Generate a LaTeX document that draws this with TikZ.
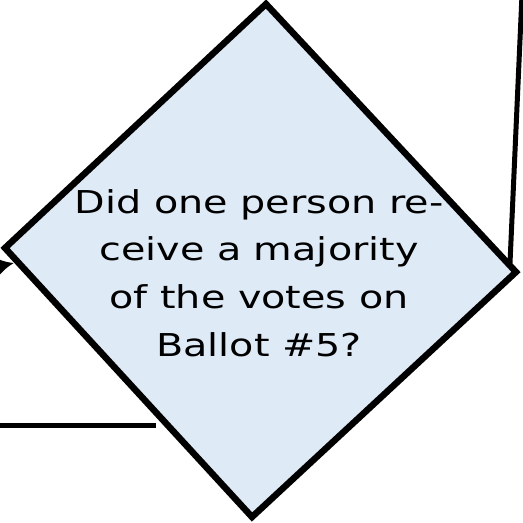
\documentclass[tikz,border=0pt]{standalone}
\usepackage{fontspec}
\setmainfont[FakeStretch=1.26]{DejaVu Sans}
\usetikzlibrary{arrows.meta}
\definecolor{diafill}{HTML}{DEEAF6}
\tikzset{
  decision/.style={draw=black, line width=6.5pt, fill=diafill, line join=miter},
  conn/.style={draw=black, line width=5pt},
  qtext/.style={align=center, inner sep=0pt, font=\fontsize{31.5pt}{47.7pt}\selectfont}
}
\begin{document}
\begin{tikzpicture}[x=1pt, y=-1pt]
\useasboundingbox (0,0) rectangle (523,523);
\clip (0,0) rectangle (523,523);
\coordinate (T) at (266,4);
\coordinate (R) at (516,272);
\coordinate (B) at (252,517);
\coordinate (L) at (5,248);
\path[decision] (T) -- (R) -- (B) -- (L) -- cycle;
\node[qtext, anchor=north] (q) at (259,189) {Did one person re-\\ceive a majority\\of the votes on\\Ballot \#5?};
% connectors
\coordinate (rtop) at (522,-5);
\coordinate (rend) at (510,263);
\draw[conn] (rtop) -- (rend);
\coordinate (hstart) at (-5,425);
\coordinate (hend) at (156,425);
\draw[conn] (hstart) -- (hend);
\coordinate (astart) at (-60,279);
\coordinate (atip) at (14,263);
\draw[conn, line width=4pt, -{Latex[length=16pt,width=17pt]}] (astart) -- (atip);
\end{tikzpicture}
\end{document}
